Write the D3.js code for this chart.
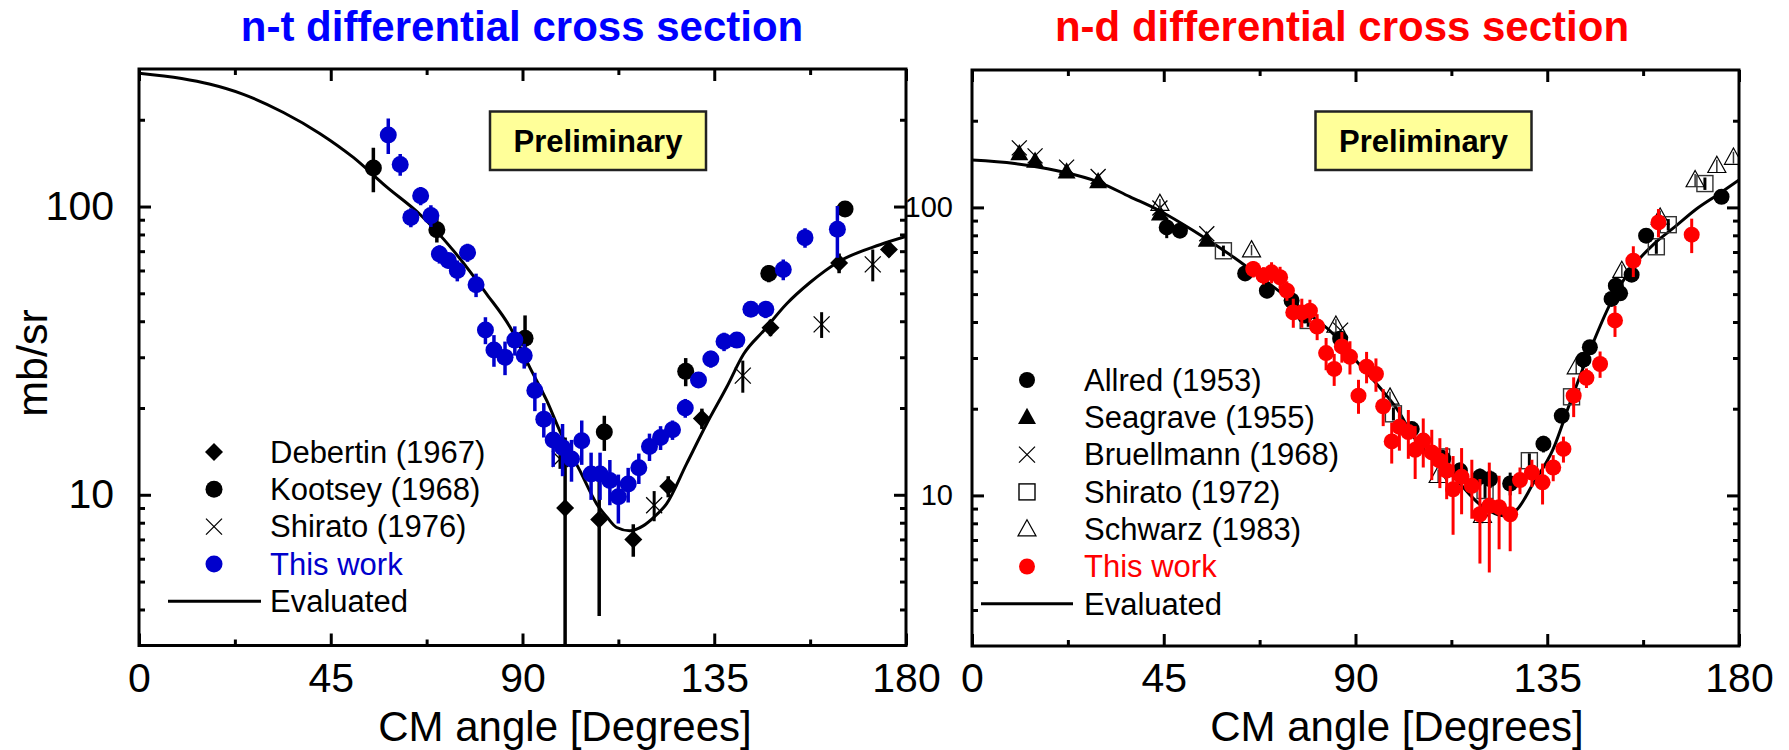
<!DOCTYPE html>
<html><head><meta charset="utf-8">
<script src="https://cdn.jsdelivr.net/npm/d3@7"></script>
<style>
body{margin:0;background:#fff}
svg{display:block}
text{font-family:"Liberation Sans",Arial,Helvetica,sans-serif}
</style>
</head><body>
<svg id="chart" width="1789" height="750"></svg>
<script>
// ---------------- DATA ----------------
const xTicks = [0, 45, 90, 135, 180];
const xMinorTicks = [22.5, 67.5, 112.5, 157.5];
const yTicks = [10, 100];
const yMinorTicks = [4, 5, 6, 7, 8, 9, 20, 30, 40, 50, 60, 70, 80, 90, 200];
const yDomain = [3, 300];
const xDomain = [0, 180];

const ntTitle = "n-t differential cross section";
const ndTitle = "n-d differential cross section";
const xTitle = "CM angle [Degrees]";
const yTitle = "mb/sr";
const boxText = "Preliminary";

// n-t : [angle, value]
const ntEvaluated = [[0,290],[10,278],[16.5,266],[24.5,245],[33.9,212],[42.5,179],[50.3,148],[58.1,117],[65.9,94],[73.8,70.3],[81.6,49.7],[87.1,38.1],[91.8,27.5],[95.7,21.2],[98.8,16.6],[103.5,12.1],[107.4,9.3],[110,8.3],[112.1,7.7],[115.2,7.5],[118.3,7.8],[121,8.4],[123.8,9.3],[128.5,12.8],[133.2,17.6],[137.9,23.6],[141.9,30.8],[146.6,37.1],[152,46],[157.4,54.4],[164.3,64.5],[173.9,73.7],[180,78.7]];
// [angle, value, error]
const ntThisWork = [[58.5,177,25],[61.3,140,12],[63.8,91.7,7],[66.1,109,8],[68.5,93,8],[70.5,68.4,5],[72.6,65,4],[74.7,60,5],[77.1,69.3,5],[79.1,53.5,5],[81.3,37.3,4],[83.3,31.8,4],[85.9,30,4],[88.2,34.4,4],[90.4,30.4,3],[92.9,23,3.5],[95.0,18.3,2.5],[97.2,15.5,3],[99.4,14.6,3],[101.5,13.3,2.2],[103.9,15.4,2.7],[106.1,11.8,2.2],[108.2,11.8,2.2],[110.5,11.2,2],[112.5,9.85,1.9],[114.8,10.9,1.5],[117.3,12.4,1.5],[119.8,14.7,1.6],[122.4,15.8,1.5],[125.2,16.8,1.3],[128.2,20,1.5],[131.3,25,1.5],[134.2,29.6,2],[137.3,34,2.5],[140.3,34.4,2],[143.6,44,2],[147.1,44,3],[151.2,60.5,5],[156.3,78,6],[163.9,83.4,17]];
const ntKootsey = [[55.0,136,24],[69.9,83,8],[90.6,34.9,7],[109.2,16.5,2.3],[128.3,26.8,3],[147.8,58.6,4],[165.7,98,5]];
const ntDebertin = [[100,9.0,6.8],[108,8.2,4.4],[116,7.0,0.9],[124.2,10.7,0.9],[132.1,18.4,1.5],[148.2,38,2.5],[164.3,63.7,5],[176,71,4]];
const ntShirato = [[98.8,13.3,1],[120.9,9.2,1.1],[141.7,25.9,3.3],[160.2,39,4],[172.2,63,8]];
const ntLegendLabels = ["Debertin (1967)", "Kootsey (1968)", "Shirato (1976)", "This work", "Evaluated"];

// n-d
const ndEvaluated = [[0,146],[10,142],[20,134],[30,122],[37,109],[44,97.4],[52,83],[61.5,67],[70,54],[80,41.6],[84,37.3],[90,29.5],[95.7,23.7],[100,19.7],[103.6,16],[108,13.5],[113,11.6],[119.2,9.3],[124.7,8.5],[127.8,8.9],[131.7,11],[136.4,14.5],[140,20.3],[145,31.8],[150,47],[155,62],[160,74.6],[165,85.7],[170,98.7],[175,110.7],[180,124.5]];
const ndThisWork = [[66.0,61.1,4],[68.4,58.0,4],[70.3,59.5,5],[72.3,57.2,5],[73.9,51.4,4],[75.4,43.2,5],[77.4,43.2,5],[79.3,43.8,4],[81.0,38.6,4],[83.1,31.2,4],[85.0,27.5,3.5],[86.8,32.9,4],[88.7,30.3,4],[90.7,22.2,3],[92.6,28,3.5],[94.8,26.4,3.5],[96.5,20.4,3],[98.5,15.4,2.5],[100.3,17.3,3],[102.4,16.6,3.2],[104.0,14.4,3],[105.9,15.5,3],[107.9,14.1,2.8],[109.8,13.2,2.6],[111.4,12.2,2.5],[112.9,10.5,3.2],[114.9,11.6,3],[117.3,10.8,2.5],[119.2,8.6,2.8],[121.4,9.2,3.8],[123.7,9.1,2.6],[126.3,8.6,2.2],[128.6,11.3,1.2],[131.4,12.0,1.3],[133.9,11.1,1.8],[136.4,12.5,1.3],[138.8,14.5,1.5],[141.2,22.2,3.5],[144.2,25.6,2],[147.4,28.6,3],[150.9,40.5,5],[155.2,65.3,8],[161.1,88.7,10],[168.9,80.4,11]];
const ndAllred = [[45.7,85.2,7],[48.8,83,3],[64.1,59,3],[69.2,51.4,3],[75,47.5,2],[78.1,42.1,2],[86.4,35,2],[103.2,17,1],[110.6,13.4,1],[114.5,12.2,0.8],[119.2,11.6,0.8],[121.6,11.4,0.8],[126.3,11.0,1],[134.1,15.1,1],[138.4,18.9,1],[143.5,29.6,1.5],[145.0,32.7,1.5],[150.1,48.1,2],[151.1,53.5,2],[152.1,50.3,2],[154.8,58.4,2],[158.2,79.8,3],[175.9,108.9,3]];
const ndSeagrave = [[11.1,154],[14.8,145],[22.2,133],[29.6,123],[44.1,95],[55.1,77]];
const ndBruellmann = [[11.1,161],[14.8,151],[22.2,138],[29.6,128],[44.1,99.5],[55.1,81],[86.5,37.5]];
const ndShirato = [[59,70.7,3],[78.9,40.5,2],[98.9,19.2,1],[110.2,13.6,0.8],[120.4,10.4,0.6],[130.8,13.2,0.8],[140.7,22,1.2],[160.6,73,4],[163.4,87.1,4],[172,121,6]];
const ndSchwarz = [[44.1,103,4],[65.6,71.1,3],[85.4,38.9,2],[98.1,21.9,1],[109.4,11.7,0.6],[119.8,8.5,0.5],[141.8,27.9,1.5],[152.5,60.3,3],[161.5,92.3,5],[169.7,124.5,6],[174.8,139.5,7],[178.7,149,7]];
const ndLegendLabels = ["Allred (1953)", "Seagrave (1955)", "Bruellmann (1968)", "Shirato (1972)", "Schwarz (1983)", "This work", "Evaluated"];

// ---------------- DRAWING ----------------
const svg = d3.select("#chart");
const FONT = '"Liberation Sans",Arial,Helvetica,sans-serif';

function drawSymbol(g, type, cx, cy, color, r) {
  switch (type) {
    case "circle":
      g.append("circle").attr("cx", cx).attr("cy", cy).attr("r", r).attr("fill", color);
      break;
    case "diamond": {
      const h = r + 0.5;
      g.append("path").attr("d", `M${cx},${cy-h}L${cx+h},${cy}L${cx},${cy+h}L${cx-h},${cy}Z`).attr("fill", color);
      break;
    }
    case "cross": {
      const s = r;
      g.append("path").attr("d", `M${cx-s},${cy-s}L${cx+s},${cy+s}M${cx-s},${cy+s}L${cx+s},${cy-s}`)
        .attr("stroke", color).attr("stroke-width", 1.3).attr("fill", "none");
      break;
    }
    case "triangle":
    case "otriangle": {
      const h = r;
      const p = `M${cx},${cy-h*1.05}L${cx+h},${cy+h*0.75}L${cx-h},${cy+h*0.75}Z`;
      if (type === "triangle") g.append("path").attr("d", p).attr("fill", color);
      else g.append("path").attr("d", p).attr("fill", "none").attr("stroke", color).attr("stroke-width", 1.2);
      break;
    }
    case "square":
      g.append("rect").attr("x", cx - r).attr("y", cy - r).attr("width", 2*r).attr("height", 2*r)
        .attr("fill", "none").attr("stroke", color).attr("stroke-width", 1.4);
      break;
  }
}

function drawPanel(cfg) {
  const x = d3.scaleLinear().domain(xDomain).range([cfg.x0, cfg.x1]);
  const y = d3.scaleLog().domain(yDomain).range([cfg.y1, cfg.y0]);
  const g = svg.append("g");

  g.append("clipPath").attr("id", cfg.id).append("rect")
    .attr("x", cfg.x0).attr("y", cfg.y0).attr("width", cfg.x1 - cfg.x0).attr("height", cfg.y1 - cfg.y0);
  const plot = g.append("g").attr("clip-path", `url(#${cfg.id})`);

  // evaluated curve
  const line = d3.line().x(d => x(d[0])).y(d => y(d[1])).curve(d3.curveMonotoneX);
  plot.append("path").datum(cfg.curve).attr("d", line)
    .attr("fill", "none").attr("stroke", "#000").attr("stroke-width", 3);

  // data series
  cfg.series.forEach(s => {
    const sg = plot.append("g");
    s.data.forEach(d => {
      const cx = x(d[0]), cy = y(d[1]);
      if (d[2] !== undefined) {
        const lo = Math.max(d[1] - d[2], 0.5);
        sg.append("line").attr("x1", cx).attr("x2", cx).attr("y1", y(lo)).attr("y2", y(d[1] + d[2]))
          .attr("stroke", s.barColor || s.color).attr("stroke-width", s.barWidth || 3.5);
      }
      drawSymbol(sg, s.type, cx, cy, s.color, s.r);
    });
  });

  // axes (ticks inward, labels outside)
  const styleAxis = sel => {
    sel.select(".domain").remove();
    sel.selectAll(".tick line").attr("stroke", "#000").attr("stroke-width", 3);
    sel.selectAll(".tick text").attr("fill", "#000").style("font-family", FONT);
  };
  g.append("g").attr("transform", `translate(0,${cfg.y1})`)
    .call(d3.axisBottom(x).tickValues(xTicks).tickSize(-12).tickPadding(17).tickFormat(d3.format("d")))
    .call(styleAxis).call(a => a.selectAll(".tick text").style("font-size", "41px"));
  g.append("g").attr("transform", `translate(0,${cfg.y1})`)
    .call(d3.axisBottom(x).tickValues(xMinorTicks).tickSize(-6).tickFormat(""))
    .call(styleAxis);
  g.append("g").attr("transform", `translate(0,${cfg.y0})`)
    .call(d3.axisTop(x).tickValues(xTicks).tickSize(-12).tickFormat(""))
    .call(styleAxis);
  g.append("g").attr("transform", `translate(0,${cfg.y0})`)
    .call(d3.axisTop(x).tickValues(xMinorTicks).tickSize(-6).tickFormat(""))
    .call(styleAxis);
  g.append("g").attr("transform", `translate(${cfg.x0},0)`)
    .call(d3.axisLeft(y).tickValues(yTicks).tickSize(-12).tickPadding(cfg.yPad).tickFormat(d3.format("d")))
    .call(styleAxis).call(a => a.selectAll(".tick text").style("font-size", cfg.yFont + "px"));
  g.append("g").attr("transform", `translate(${cfg.x0},0)`)
    .call(d3.axisLeft(y).tickValues(yMinorTicks).tickSize(-6).tickFormat(""))
    .call(styleAxis);
  g.append("g").attr("transform", `translate(${cfg.x1},0)`)
    .call(d3.axisRight(y).tickValues(yTicks).tickSize(-12).tickFormat(""))
    .call(styleAxis);
  g.append("g").attr("transform", `translate(${cfg.x1},0)`)
    .call(d3.axisRight(y).tickValues(yMinorTicks).tickSize(-6).tickFormat(""))
    .call(styleAxis);

  // frame
  g.append("rect").attr("x", cfg.x0).attr("y", cfg.y0).attr("width", cfg.x1 - cfg.x0).attr("height", cfg.y1 - cfg.y0)
    .attr("fill", "none").attr("stroke", "#000").attr("stroke-width", 3);

  // title
  g.append("text").attr("x", cfg.titleX).attr("y", 41).attr("text-anchor", "middle")
    .style("font-size", "42px").style("font-weight", "bold").attr("fill", cfg.titleColor).text(cfg.title);
  // x title
  g.append("text").attr("x", cfg.xTitleX).attr("y", 741).attr("text-anchor", "middle")
    .style("font-size", "42px").attr("fill", "#000").text(xTitle);

  // preliminary box
  g.append("rect").attr("x", cfg.boxX).attr("y", 111.5).attr("width", 216).attr("height", 58.5)
    .attr("fill", "#ffff99").attr("stroke", "#222").attr("stroke-width", 2.5);
  g.append("text").attr("x", cfg.boxX + 108).attr("y", 152).attr("text-anchor", "middle")
    .style("font-size", "31px").style("font-weight", "bold").attr("fill", "#000").text(boxText);

  // legend
  const lg = g.append("g");
  cfg.legend.forEach((it, i) => {
    const ly = cfg.legY + i * cfg.legStep;
    if (it.type === "line") {
      lg.append("line").attr("x1", cfg.legLineX0).attr("x2", cfg.legLineX1).attr("y1", ly).attr("y2", ly)
        .attr("stroke", "#000").attr("stroke-width", 3);
    } else {
      drawSymbol(lg, it.type, cfg.legSymX, ly, it.color, it.r);
    }
    lg.append("text").attr("x", cfg.legTextX).attr("y", ly).attr("dy", "0.35em")
      .style("font-size", "31px").attr("fill", it.textColor || "#000").text(it.label);
  });
}

const BLUE = "#0000cc", RED = "#ff0000";

drawPanel({
  id: "clipNT", x0: 139, x1: 906, y0: 69, y1: 645.5,
  yPad: 25, yFont: 41,
  title: ntTitle, titleColor: "#0000ff", titleX: 522, xTitleX: 565,
  boxX: 490,
  curve: ntEvaluated,
  series: [
    {data: ntDebertin, type: "diamond", color: "#000", r: 8.5},
    {data: ntKootsey, type: "circle", color: "#000", r: 8.5},
    {data: ntShirato, type: "cross", color: "#000", r: 8, barWidth: 3},
    {data: ntThisWork, type: "circle", color: BLUE, r: 8.5}
  ],
  legend: [
    {label: ntLegendLabels[0], type: "diamond", color: "#000", r: 8.5},
    {label: ntLegendLabels[1], type: "circle", color: "#000", r: 8.5},
    {label: ntLegendLabels[2], type: "cross", color: "#000", r: 8},
    {label: ntLegendLabels[3], type: "circle", color: BLUE, r: 8.5, textColor: BLUE},
    {label: ntLegendLabels[4], type: "line"}
  ],
  legY: 452, legStep: 37.3, legSymX: 214, legTextX: 270, legLineX0: 168, legLineX1: 261
});

drawPanel({
  id: "clipND", x0: 972, x1: 1739, y0: 70, y1: 646,
  yPad: 19, yFont: 29,
  title: ndTitle, titleColor: RED, titleX: 1342, xTitleX: 1397,
  boxX: 1315.5,
  curve: ndEvaluated,
  series: [
    {data: ndBruellmann, type: "cross", color: "#000", r: 7.5},
    {data: ndSeagrave, type: "triangle", color: "#000", r: 9},
    {data: ndSchwarz, type: "otriangle", color: "#000", r: 9, barWidth: 1.5, barColor: "#333"},
    {data: ndShirato, type: "square", color: "#333", r: 8, barWidth: 3, barColor: "#000"},
    {data: ndAllred, type: "circle", color: "#000", r: 8, barWidth: 3},
    {data: ndThisWork, type: "circle", color: RED, r: 8, barWidth: 3}
  ],
  legend: [
    {label: ndLegendLabels[0], type: "circle", color: "#000", r: 8},
    {label: ndLegendLabels[1], type: "triangle", color: "#000", r: 9},
    {label: ndLegendLabels[2], type: "cross", color: "#000", r: 8},
    {label: ndLegendLabels[3], type: "square", color: "#000", r: 8},
    {label: ndLegendLabels[4], type: "otriangle", color: "#000", r: 9},
    {label: ndLegendLabels[5], type: "circle", color: RED, r: 8, textColor: RED},
    {label: ndLegendLabels[6], type: "line"}
  ],
  legY: 380, legStep: 37.3, legSymX: 1027, legTextX: 1084, legLineX0: 981, legLineX1: 1073
});

// y axis title
svg.append("text").attr("transform", "translate(47,363) rotate(-90)").attr("text-anchor", "middle")
  .style("font-size", "43px").attr("fill", "#000").text(yTitle);
</script>
</body></html>
